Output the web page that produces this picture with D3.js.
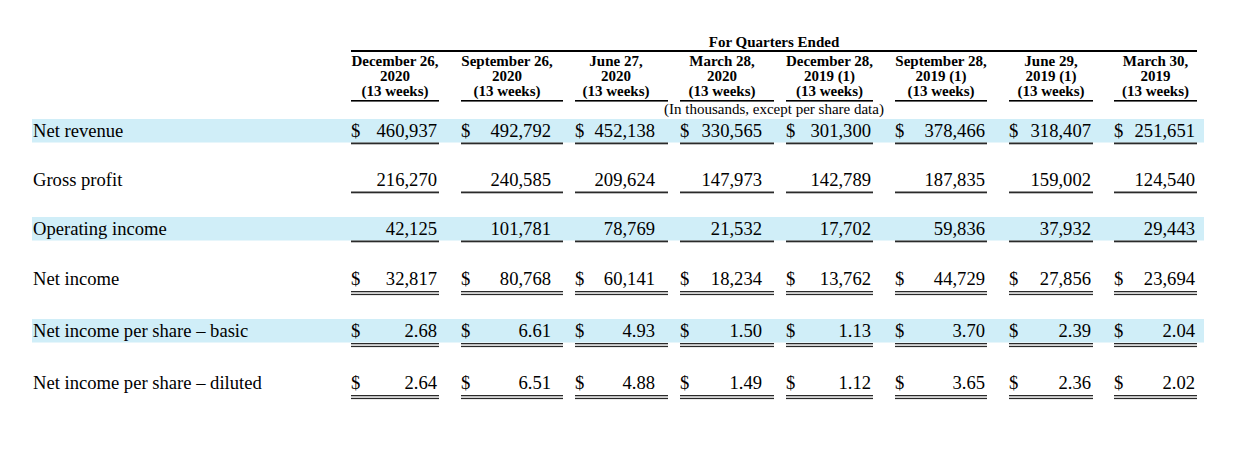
<!DOCTYPE html>
<html><head><meta charset="utf-8">
<script src="https://cdn.jsdelivr.net/npm/d3@7"></script>
<style>
html,body{margin:0;padding:0;background:#fff;}
svg{display:block;font-family:"Liberation Serif","Times New Roman",serif;}
</style></head>
<body><svg id="chart" width="1240" height="459"></svg>
<script>
// ---- data ----
const headerTitle = "For Quarters Ended";
const unitsNote = "(In thousands, except per share data)";
const periodDates = ["December 26,","September 26,","June 27,","March 28,","December 28,","September 28,","June 29,","March 30,"];
const periodYears = ["2020","2020","2020","2020","2019 (1)","2019 (1)","2019 (1)","2019"];
const periodLengths = ["(13 weeks)","(13 weeks)","(13 weeks)","(13 weeks)","(13 weeks)","(13 weeks)","(13 weeks)","(13 weeks)"];
const rowLabels = ["Net revenue","Gross profit","Operating income","Net income","Net income per share – basic","Net income per share – diluted"];
const netRevenue = [460937,492792,452138,330565,301300,378466,318407,251651];
const grossProfit = [216270,240585,209624,147973,142789,187835,159002,124540];
const operatingIncome = [42125,101781,78769,21532,17702,59836,37932,29443];
const netIncome = [32817,80768,60141,18234,13762,44729,27856,23694];
const epsBasic = [2.68,6.61,4.93,1.50,1.13,3.70,2.39,2.04];
const epsDiluted = [2.64,6.51,4.88,1.49,1.12,3.65,2.36,2.02];
const rowValues = [netRevenue,grossProfit,operatingIncome,netIncome,epsBasic,epsDiluted];
const rowDollar = [true,false,false,true,true,true];
const rowDouble = [false,false,false,true,true,true];
const rowShaded = [true,false,true,false,true,false];
const rowDecimals = [0,0,0,0,2,2];

// ---- layout ----
const W = 1240, H = 459;
const svg = d3.select("#chart");
svg.append("rect").attr("width",W).attr("height",H).attr("fill","#fff");

const colIdx = d3.range(periodDates.length);
const xLeft = d3.scaleOrdinal().domain(colIdx).range([351,461,575,680,786,895,1009,1114]);
const xNumRight = d3.scaleOrdinal().domain(colIdx).range([437,551,655,762,871,985,1091,1195]);
const xRuleRight = d3.scaleOrdinal().domain(colIdx).range([439,563,668,774,873,987,1093,1197]);
const yRow = d3.scaleOrdinal().domain(d3.range(rowLabels.length)).range([137,186,235,285,337,389]);

const tableLeft = 32, tableRight = 1204;
const ink = "#000", rule = "#2a2a2a", band = "#d0eef8";

// bands
const rows = rowLabels.map((label,i)=>({label,i,values:rowValues[i]}));
svg.append("g").selectAll("rect").data(rows.filter(r=>rowShaded[r.i])).join("rect")
  .attr("x",tableLeft).attr("width",tableRight-tableLeft)
  .attr("y",r=>yRow(r.i)-18).attr("height",23.5)
  .attr("fill",band);

// header
const hdr = svg.append("g").attr("fill",ink);
const spanL = xLeft(0), spanR = xRuleRight(colIdx.length-1);
hdr.append("text").attr("x",(spanL+spanR)/2).attr("y",47).attr("text-anchor","middle")
  .attr("font-size",15).attr("font-weight","bold").text(headerTitle);
hdr.append("rect").attr("x",spanL).attr("width",spanR-spanL).attr("y",50).attr("height",2).attr("fill",ink);

const cols = colIdx.map(j=>({j,date:periodDates[j],year:periodYears[j],len:periodLengths[j]}));
const hc = hdr.selectAll("g.col").data(cols).join("g").attr("class","col");
const cx = c => (xLeft(c.j)+xNumRight(c.j))/2 + 1;
[["date",65.5],["year",80.5],["len",95.5]].forEach(([k,y])=>{
  hc.append("text").attr("x",cx).attr("y",y).attr("text-anchor","middle")
    .attr("font-size",15).attr("font-weight","bold").text(c=>c[k]);
});
hc.append("rect").attr("x",c=>xLeft(c.j)).attr("width",c=>xRuleRight(c.j)-xLeft(c.j))
  .attr("y",100).attr("height",1.6).attr("fill",ink);
hdr.append("text").attr("x",(spanL+spanR)/2).attr("y",113.5).attr("text-anchor","middle")
  .attr("font-size",15).text(unitsNote);

// rows
const body = svg.append("g").attr("font-size",18.6).attr("fill",ink);
const rg = body.selectAll("g.row").data(rows).join("g").attr("class","row");
rg.append("text").attr("x",33).attr("y",r=>yRow(r.i)).text(r=>r.label);

const cells = rg.selectAll("g.cell").data(r=>r.values.map((v,j)=>({v,j,r:r.i}))).join("g").attr("class","cell");
cells.filter(d=>rowDollar[d.r]).append("text")
  .attr("x",d=>xLeft(d.j)).attr("y",d=>yRow(d.r)).text("$");
cells.append("text").attr("x",d=>xNumRight(d.j)).attr("y",d=>yRow(d.r)).attr("text-anchor","end")
  .text(d=>rowDecimals[d.r]===0 ? d3.format(",.0f")(d.v) : d3.format(".2f")(d.v));
// single underline
cells.filter(d=>!rowDouble[d.r]).append("rect")
  .attr("x",d=>xLeft(d.j)).attr("width",d=>xRuleRight(d.j)-xLeft(d.j))
  .attr("y",d=>yRow(d.r)+5.5).attr("height",1.8).attr("fill",rule);
// double underline
[6,8.8].forEach(off=>{
  cells.filter(d=>rowDouble[d.r]).append("rect")
    .attr("x",d=>xLeft(d.j)).attr("width",d=>xRuleRight(d.j)-xLeft(d.j))
    .attr("y",d=>yRow(d.r)+off).attr("height",1.3).attr("fill",rule);
});
</script></body></html>
